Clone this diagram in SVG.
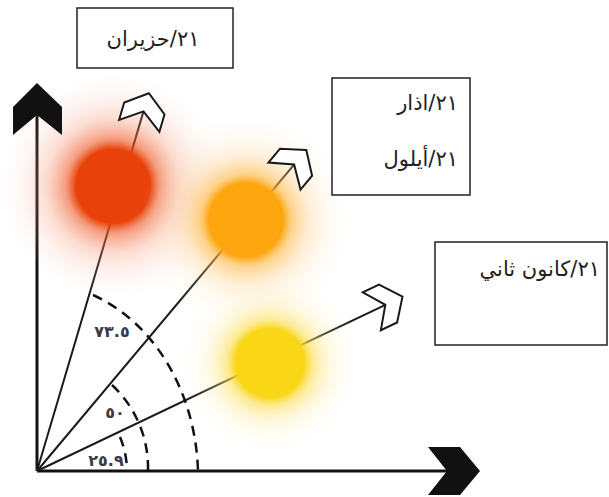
<svg xmlns="http://www.w3.org/2000/svg" width="609" height="497" viewBox="0 0 609 497">
<style>
  .axis { stroke: #111; stroke-width: 3; fill: none; }
  .ray { stroke: #1a1a1a; stroke-width: 2; fill: none; }
  .arc { stroke: #111; stroke-width: 2.5; fill: none; stroke-dasharray: 10 7; }
  .head { fill: #111; stroke: none; }
  .hollow { fill: #fff; stroke: #1a1a1a; stroke-width: 2; stroke-linejoin: miter; }
  .box { fill: #fff; stroke: #222; stroke-width: 1.5; }
  .lbl { font-family: "DejaVu Sans", "Noto Sans", sans-serif; font-size: 21px; fill: #222; }
  .ang { font-family: "DejaVu Sans", "Noto Sans", sans-serif; font-size: 16px; font-weight: bold; fill: #3a3a48; }
</style>
<defs>
  <radialGradient id="gRed">
    <stop offset="0" stop-color="#E8420A" stop-opacity="1"/>
    <stop offset="0.33" stop-color="#E8420A" stop-opacity="1"/>
    <stop offset="0.42" stop-color="#EE5A28" stop-opacity="0.6"/>
    <stop offset="0.6" stop-color="#F48A66" stop-opacity="0.3"/>
    <stop offset="0.8" stop-color="#F8B8A0" stop-opacity="0.14"/>
    <stop offset="1" stop-color="#FBD0C0" stop-opacity="0"/>
  </radialGradient>
  <radialGradient id="gOrange">
    <stop offset="0" stop-color="#FDA50F" stop-opacity="1"/>
    <stop offset="0.35" stop-color="#FDA50F" stop-opacity="1"/>
    <stop offset="0.44" stop-color="#FDB640" stop-opacity="0.6"/>
    <stop offset="0.62" stop-color="#FDCB80" stop-opacity="0.3"/>
    <stop offset="0.8" stop-color="#FEDFB0" stop-opacity="0.14"/>
    <stop offset="1" stop-color="#FEE8CC" stop-opacity="0"/>
  </radialGradient>
  <radialGradient id="gYellow">
    <stop offset="0" stop-color="#F9D616" stop-opacity="1"/>
    <stop offset="0.38" stop-color="#F9D616" stop-opacity="1"/>
    <stop offset="0.48" stop-color="#FBDE50" stop-opacity="0.6"/>
    <stop offset="0.65" stop-color="#FCE890" stop-opacity="0.3"/>
    <stop offset="0.82" stop-color="#FDF0C0" stop-opacity="0.14"/>
    <stop offset="1" stop-color="#FEF6D8" stop-opacity="0"/>
  </radialGradient>
  <polygon id="hollowHead" class="hollow" points="0,0 -16,-21 -34,-21 -19,0 -34,21 -16,21"/>
</defs>
<rect width="609" height="497" fill="#fff"/>

<g id="connectors">
  <line class="axis" x1="37" y1="471" x2="37" y2="112"/>
  <line class="axis" x1="37" y1="471" x2="450" y2="471"/>
  <line class="ray" x1="37" y1="471" x2="143.5" y2="111.4"/>
  <line class="ray" x1="37" y1="471" x2="294.1" y2="164.6"/>
  <line class="ray" x1="37" y1="471" x2="385.4" y2="304.8"/>
</g>

<g id="sun-june">
  <circle cx="113" cy="186" r="112" fill="url(#gRed)"/>
</g>
<g id="sun-equinox">
  <circle cx="246" cy="220" r="105" fill="url(#gOrange)"/>
</g>
<g id="sun-december">
  <circle cx="270" cy="363" r="90" fill="url(#gYellow)"/>
</g>

<g id="arrowheads">
  <polygon class="head" points="37,83 13,107 13,135 37,115 62,135 62,107"/>
  <polygon class="head" points="480,471 460,447 428,447 447,471 428,495 460,495"/>
  <use href="#hollowHead" transform="translate(148.9,93.2) rotate(-73.5)"/>
  <use href="#hollowHead" transform="translate(306.3,150) rotate(-50)"/>
  <use href="#hollowHead" transform="translate(402.5,296.6) rotate(-25.5)"/>
</g>

<g id="angle-arcs">
  <path class="arc" d="M 93 295 A 161 195 0 0 1 198 471"/>
  <path class="arc" d="M 112 385 A 113 113 0 0 1 148 471"/>
  <path class="arc" d="M 120 437 A 90 90 0 0 1 127 471"/>
  <text class="ang" x="112" y="337" text-anchor="middle">٧٣.٥</text>
  <text class="ang" x="115" y="418" text-anchor="middle">٥٠</text>
  <text class="ang" x="106" y="466" text-anchor="middle">٢٥.٩</text>
</g>

<g id="box-june">
  <rect class="box" x="77" y="8" width="156" height="60"/>
  <text class="lbl" x="153" y="46" text-anchor="middle" direction="rtl">٢١/حزيران</text>
</g>
<g id="box-equinox">
  <rect class="box" x="332" y="78" width="138" height="117"/>
  <text class="lbl" x="458" y="110" direction="rtl" text-anchor="start">٢١/اذار</text>
  <text class="lbl" x="458" y="166" direction="rtl" text-anchor="start">٢١/أيلول</text>
</g>
<g id="box-december">
  <rect class="box" x="435" y="242" width="172" height="103"/>
  <text class="lbl" x="600" y="276" direction="rtl" text-anchor="start">٢١/كانون ثاني</text>
</g>
</svg>
